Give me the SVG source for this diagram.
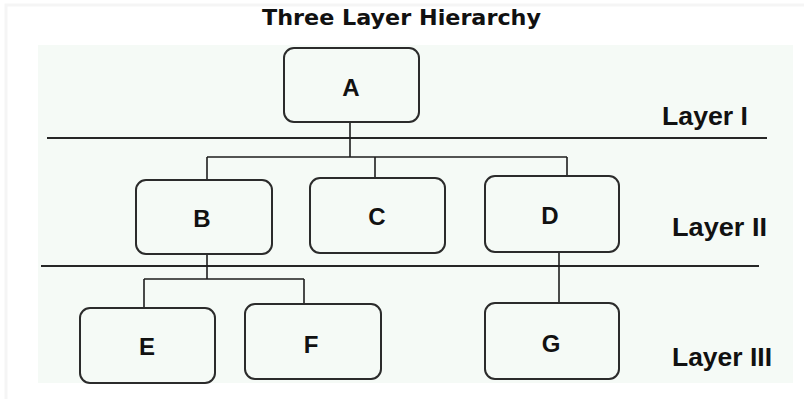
<svg xmlns="http://www.w3.org/2000/svg" width="804" height="399" viewBox="0 0 804 399">
  <defs>
    <style>
      .frame { fill: #ffffff; stroke: #f5f5f5; stroke-width: 3; }
      .panel { fill: #f5faf6; }
      .box { fill: #f5faf6; stroke: #2b2b2b; stroke-width: 2; }
      .wire { fill: none; stroke: #1e1e1e; stroke-width: 1.6; }
      .divider { fill: none; stroke: #262626; stroke-width: 2; }
      .title { font-family: "DejaVu Sans", "Liberation Sans", sans-serif; font-size: 21px; font-weight: 600; fill: #111; }
      .node { font-family: "Liberation Sans", Arial, sans-serif; font-size: 24px; font-weight: bold; fill: #111; text-anchor: middle; }
      .layer { font-family: "Liberation Sans", Arial, sans-serif; font-size: 26px; font-weight: bold; fill: #111; }
    </style>
  </defs>

  <rect x="0" y="0" width="804" height="399" fill="#ffffff"/>
  <rect class="frame" x="6" y="5" width="800" height="400"/>
  <rect class="panel" x="38" y="45" width="755" height="338"/>

  <text class="title" x="262" y="25" textLength="279" lengthAdjust="spacingAndGlyphs">Three Layer Hierarchy</text>

  <!-- layer dividers -->
  <line class="divider" x1="47" y1="138" x2="767" y2="138"/>
  <line class="divider" x1="41" y1="266" x2="759" y2="266"/>

  <!-- layer labels -->
  <text class="layer" x="662" y="125" textLength="86" lengthAdjust="spacingAndGlyphs">Layer I</text>
  <text class="layer" x="672" y="236" textLength="95" lengthAdjust="spacingAndGlyphs">Layer II</text>
  <text class="layer" x="672" y="366" textLength="100" lengthAdjust="spacingAndGlyphs">Layer III</text>

  <g id="connectors">
    <path class="wire" d="M350 122 V157 M207 157 H567 M207 157 V180 M375 157 V178 M567 157 V176"/>
    <path class="wire" d="M207 254 V279 M144 279 H304 M144 279 V308 M304 279 V304"/>
    <path class="wire" d="M559 252 V303"/>
  </g>

  <g id="node-A">
    <rect class="box" x="284" y="48" width="135" height="74" rx="10"/>
    <text class="node" x="351" y="96">A</text>
  </g>
  <g id="node-B">
    <rect class="box" x="136" y="180" width="136" height="74" rx="10"/>
    <text class="node" x="202" y="227">B</text>
  </g>
  <g id="node-C">
    <rect class="box" x="310" y="178" width="135" height="75" rx="10"/>
    <text class="node" x="377" y="225">C</text>
  </g>
  <g id="node-D">
    <rect class="box" x="485" y="176" width="134" height="76" rx="10"/>
    <text class="node" x="550" y="224">D</text>
  </g>
  <g id="node-E">
    <rect class="box" x="80" y="308" width="135" height="75" rx="10"/>
    <text class="node" x="147" y="355">E</text>
  </g>
  <g id="node-F">
    <rect class="box" x="245" y="304" width="136" height="75" rx="10"/>
    <text class="node" x="311" y="353">F</text>
  </g>
  <g id="node-G">
    <rect class="box" x="485" y="303" width="134" height="76" rx="10"/>
    <text class="node" x="551" y="352">G</text>
  </g>
</svg>
